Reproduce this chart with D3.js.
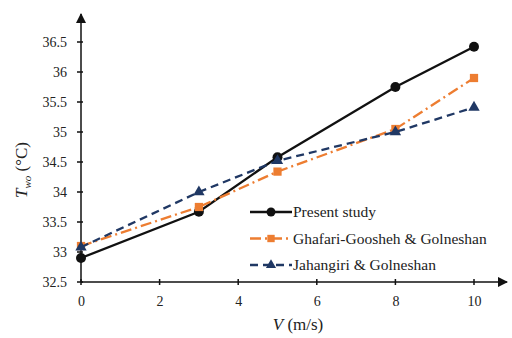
<!DOCTYPE html>
<html>
<head>
<meta charset="utf-8">
<script src="https://cdn.jsdelivr.net/npm/d3@7"></script>
<style>
body{margin:0;background:#fff;}
svg text{font-family:'Liberation Serif','Tinos','Times New Roman','DejaVu Serif',serif !important;fill:#222;}
</style>
</head>
<body>
<div id="chart"></div>
<script>
// data
var speeds=[0,3,5,8,10];
var present=[32.9,33.67,34.58,35.75,36.42];
var ghafari=[33.1,33.75,34.34,35.05,35.9];
var jahangiri=[33.08,34.0,34.52,35.0,35.41];
var xTicks=[0,2,4,6,8,10];
var yTicks=[32.5,33,33.5,34,34.5,35,35.5,36,36.5];

var W=512,H=338;
var svg=d3.select('#chart').append('svg')
	.attr('width',W).attr('height',H);

var x=d3.scaleLinear().domain([0,10]).range([81,474]);
var y=d3.scaleLinear().domain([32.5,36.5]).range([282,42]);

// axes
var xAxis=d3.axisBottom(x).tickValues(xTicks).tickSize(0).tickPadding(14).tickFormat(function(d){return String(d)});
var yAxis=d3.axisLeft(y).tickValues(yTicks).tickSize(0).tickPadding(14).tickFormat(function(d){return String(d)});

var gx=svg.append('g').attr('transform','translate(0,'+y(32.5)+')').call(xAxis);
var gy=svg.append('g').attr('transform','translate('+x(0)+',0)').call(yAxis);
[gx,gy].forEach(function(g){
	g.attr('font-family',null);
	g.select('.domain').remove();
	g.selectAll('text').style('font-size','14px').attr('fill','#222');
});

// axis lines with arrows
svg.append('defs').append('marker')
	.attr('id','arr').attr('viewBox','0 0 10 10').attr('refX',9).attr('refY',5)
	.attr('markerWidth',7).attr('markerHeight',7).attr('orient','auto')
	.append('path').attr('d','M0,0L10,5L0,10z').attr('fill','#111');
svg.append('line').attr('x1',x(0)).attr('x2',507).attr('y1',y(32.5)).attr('y2',y(32.5))
	.attr('stroke','#111').attr('stroke-width',1.5).attr('marker-end','url(#arr)');
svg.append('line').attr('x1',x(0)).attr('x2',x(0)).attr('y1',y(32.5)).attr('y2',14)
	.attr('stroke','#111').attr('stroke-width',1.5).attr('marker-end','url(#arr)');

// tick marks crossing the axes
svg.selectAll('.xt').data(xTicks).enter().append('line')
	.attr('x1',function(d){return x(d)}).attr('x2',function(d){return x(d)})
	.attr('y1',y(32.5)-3).attr('y2',y(32.5)+3).attr('stroke','#111').attr('stroke-width',1.5);
svg.selectAll('.yt').data(yTicks).enter().append('line')
	.attr('x1',x(0)-4).attr('x2',x(0)+2)
	.attr('y1',function(d){return y(d)}).attr('y2',function(d){return y(d)})
	.attr('stroke','#111').attr('stroke-width',1.5);

var series=[
	{name:'Present study',vals:present,color:'#111',dash:null,shape:d3.symbolCircle,size:78},
	{name:'Ghafari-Goosheh & Golneshan',vals:ghafari,color:'#ed7d31',dash:'11,4,2,4',shape:d3.symbolSquare,size:68},
	{name:'Jahangiri & Golneshan',vals:jahangiri,color:'#203864',dash:'8,5',shape:d3.symbolTriangle,size:56}
];

var line=d3.line().x(function(d){return x(d[0])}).y(function(d){return y(d[1])});

series.forEach(function(s){
	var pts=speeds.map(function(v,i){return [v,s.vals[i]]});
	svg.append('path').datum(pts).attr('d',line)
		.attr('fill','none').attr('stroke',s.color).attr('stroke-width',2.3)
		.attr('stroke-dasharray',s.dash);
	svg.selectAll(null).data(pts).enter().append('path')
		.attr('d',d3.symbol().type(s.shape).size(s.size))
		.attr('transform',function(d){return 'translate('+x(d[0])+','+y(d[1])+')'})
		.attr('fill',s.color);
});

// legend
var leg=svg.append('g').attr('transform','translate(250,212)');
series.forEach(function(s,i){
	var g=leg.append('g').attr('transform','translate(0,'+(i*26.5)+')');
	g.append('line').attr('x1',0).attr('x2',42).attr('y1',0).attr('y2',0)
		.attr('stroke',s.color).attr('stroke-width',2.3).attr('stroke-dasharray',s.dash);
	g.append('path').attr('d',d3.symbol().type(s.shape).size(s.size*0.8))
		.attr('transform','translate(21,0)').attr('fill',s.color);
	g.append('text').attr('x',43).attr('y',5).style('font-size','15.5px').text(s.name);
});

// axis titles
svg.append('text').attr('x',298).attr('y',330).attr('text-anchor','middle').style('font-size','17px')
	.html('<tspan font-style="italic">V</tspan> (m/s)');
svg.append('text').attr('transform','translate(27,170) rotate(-90)').attr('text-anchor','middle').style('font-size','17px')
	.html('<tspan font-style="italic">T</tspan><tspan font-style="italic" font-size="11px" dy="4">wo</tspan><tspan dy="-4"> (°C)</tspan>');
</script>
</body>
</html>
